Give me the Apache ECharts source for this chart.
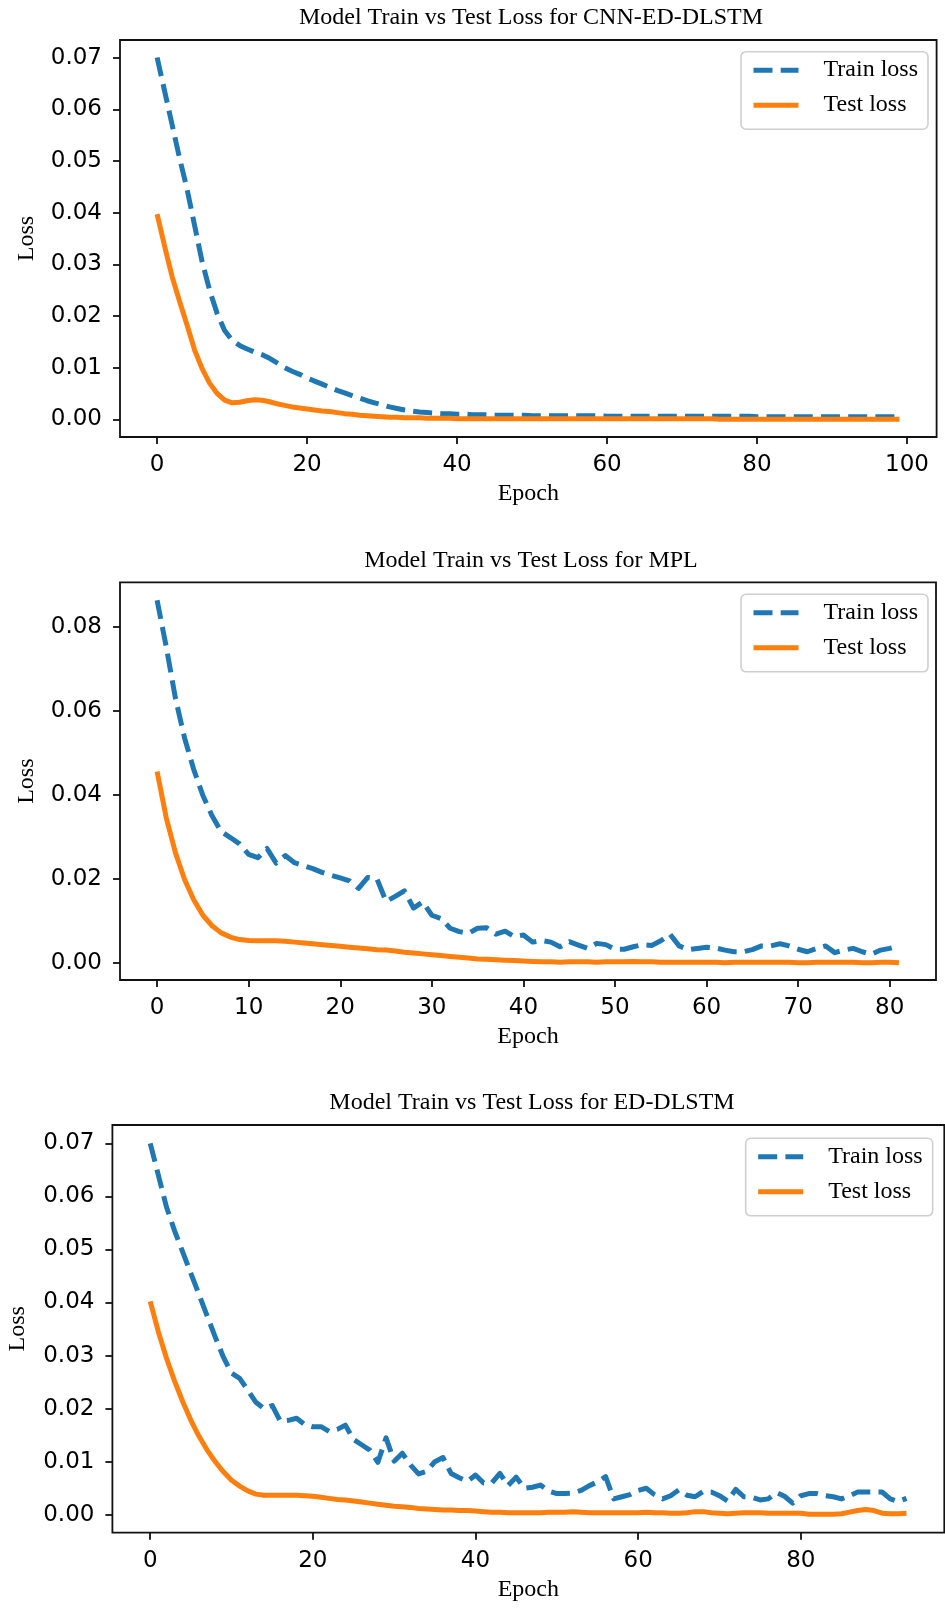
<!DOCTYPE html>
<html>
<head>
<meta charset="utf-8">
<title>Model Train vs Test Loss</title>
<script src="https://cdn.jsdelivr.net/npm/echarts@6.0.0/dist/echarts.min.js"></script>
<style>
  html, body { margin: 0; padding: 0; background: #ffffff; }
  #chart { width: 945px; height: 1609px; }
</style>
</head>
<body>
<div id="chart"></div>
<script>
// ---- Panel titles ----
const panelTitles = [
  'Model Train vs Test Loss for CNN-ED-DLSTM',
  'Model Train vs Test Loss for MPL',
  'Model Train vs Test Loss for ED-DLSTM'
];
const seriesNames = ['Train loss', 'Test loss'];

// ---- CNN-ED-DLSTM (epochs 0..99) ----
const cnnTrain = [
  0.0700, 0.0635, 0.0570, 0.0505, 0.0445, 0.0375, 0.0305, 0.0250, 0.0205, 0.0172,
  0.0153, 0.0143, 0.0136, 0.0130, 0.0125, 0.0118, 0.0109, 0.0100, 0.0093, 0.0087,
  0.0080, 0.0074, 0.0068, 0.0062, 0.0056, 0.0051, 0.0046, 0.0041, 0.0036, 0.0032,
  0.0028, 0.0024, 0.0021, 0.0018, 0.0016, 0.0014, 0.0013, 0.0012, 0.0011, 0.0011,
  0.0010, 0.0010, 0.0009, 0.0009, 0.0009, 0.0008, 0.0008, 0.0008, 0.0008, 0.0008,
  0.0007, 0.0007, 0.0007, 0.0007, 0.0007, 0.0007, 0.0007, 0.0007, 0.0007, 0.0007,
  0.0006, 0.0006, 0.0006, 0.0006, 0.0006, 0.0006, 0.0006, 0.0006, 0.0006, 0.0006,
  0.0006, 0.0006, 0.0006, 0.0006, 0.0006, 0.0006, 0.0006, 0.0006, 0.0006, 0.0006,
  0.0005, 0.0005, 0.0005, 0.0005, 0.0005, 0.0005, 0.0005, 0.0005, 0.0005, 0.0005,
  0.0005, 0.0005, 0.0005, 0.0005, 0.0005, 0.0005, 0.0005, 0.0005, 0.0005, 0.0005
];
const cnnTest = [
  0.0397, 0.0335, 0.0276, 0.0228, 0.0182, 0.0134, 0.0098, 0.0070, 0.0050, 0.0037,
  0.0032, 0.0033, 0.0036, 0.0038, 0.0037, 0.0034, 0.0030, 0.0027, 0.0024, 0.0022,
  0.0020, 0.0018, 0.0016, 0.0015, 0.0013, 0.0011, 0.0010, 0.0008, 0.0007, 0.0006,
  0.0005, 0.0004, 0.0004, 0.0003, 0.0003, 0.0003, 0.0002, 0.0002, 0.0002, 0.0002,
  0.0001, 0.0001, 0.0001, 0.0001, 0.0001, 0.0001, 0.0001, 0.0001, 0.0001, 0.0001,
  0.0001, 0.0001, 0.0001, 0.0001, 0.0001, 0.0001, 0.0001, 0.0001, 0.0001, 0.0001,
  0.0001, 0.0001, 0.0001, 0.0001, 0.0001, 0.0001, 0.0001, 0.0001, 0.0001, 0.0001,
  0.0001, 0.0001, 0.0001, 0.0001, 0.0001, 0.0000, 0.0000, 0.0000, 0.0000, 0.0000,
  0.0000, 0.0000, 0.0000, 0.0000, 0.0000, 0.0000, 0.0000, 0.0000, 0.0000, 0.0000,
  0.0000, 0.0000, 0.0000, 0.0000, 0.0000, 0.0000, 0.0000, 0.0000, 0.0000, 0.0000
];
const cnnXTicks = [0, 20, 40, 60, 80, 100];
const cnnYTicks = [0, 0.01, 0.02, 0.03, 0.04, 0.05, 0.06, 0.07];

// ---- MPL (epochs 0..81) ----
const mplTrain = [
  0.0863, 0.0752, 0.0630, 0.0535, 0.0460, 0.0398, 0.0350, 0.0312, 0.0298, 0.0283,
  0.0258, 0.0250, 0.0272, 0.0237, 0.0255, 0.0238, 0.0231, 0.0224, 0.0215, 0.0208,
  0.0202, 0.0195, 0.0177, 0.0203, 0.0200, 0.0146, 0.0158, 0.0171, 0.0130, 0.0145,
  0.0113, 0.0105, 0.0082, 0.0074, 0.0070, 0.0082, 0.0083, 0.0068, 0.0075, 0.0062,
  0.0066, 0.0049, 0.0053, 0.0049, 0.0038, 0.0050, 0.0042, 0.0034, 0.0046, 0.0043,
  0.0032, 0.0032, 0.0038, 0.0043, 0.0041, 0.0052, 0.0068, 0.0040, 0.0031, 0.0034,
  0.0037, 0.0035, 0.0030, 0.0026, 0.0026, 0.0031, 0.0040, 0.0040, 0.0045, 0.0040,
  0.0032, 0.0026, 0.0034, 0.0040, 0.0024, 0.0030, 0.0034, 0.0026, 0.0020, 0.0030,
  0.0034, 0.0040
];
const mplTest = [
  0.0455, 0.0345, 0.0262, 0.0198, 0.0150, 0.0113, 0.0088, 0.0071, 0.0061, 0.0055,
  0.0053, 0.0052, 0.0052, 0.0052, 0.0051, 0.0049, 0.0047, 0.0045, 0.0043, 0.0041,
  0.0039, 0.0037, 0.0035, 0.0033, 0.0031, 0.0030, 0.0028, 0.0025, 0.0023, 0.0021,
  0.0019, 0.0017, 0.0015, 0.0013, 0.0011, 0.0009, 0.0008, 0.0007, 0.0006, 0.0005,
  0.0004, 0.0003, 0.0002, 0.0002, 0.0001, 0.0002, 0.0002, 0.0002, 0.0001, 0.0002,
  0.0002, 0.0002, 0.0003, 0.0002, 0.0002, 0.0001, 0.0001, 0.0001, 0.0001, 0.0001,
  0.0001, 0.0001, 0.0000, 0.0001, 0.0001, 0.0001, 0.0001, 0.0001, 0.0001, 0.0001,
  0.0000, 0.0000, 0.0001, 0.0001, 0.0001, 0.0001, 0.0001, 0.0000, 0.0000, 0.0001,
  0.0001, 0.0000
];
const mplXTicks = [0, 10, 20, 30, 40, 50, 60, 70, 80];
const mplYTicks = [0, 0.02, 0.04, 0.06, 0.08];

// ---- ED-DLSTM (epochs 0..93) ----
const edTrain = [
  0.0700, 0.0640, 0.0580, 0.0535, 0.0495, 0.0455, 0.0415, 0.0375, 0.0335, 0.0297,
  0.0267, 0.0257, 0.0235, 0.0212, 0.0200, 0.0206, 0.0176, 0.0178, 0.0182, 0.0170,
  0.0166, 0.0166, 0.0157, 0.0161, 0.0169, 0.0142, 0.0132, 0.0122, 0.0099, 0.0145,
  0.0101, 0.0116, 0.0094, 0.0077, 0.0082, 0.0100, 0.0108, 0.0078, 0.0070, 0.0063,
  0.0075, 0.0060, 0.0060, 0.0078, 0.0055, 0.0071, 0.0050, 0.0052, 0.0056, 0.0045,
  0.0040, 0.0040, 0.0041, 0.0046, 0.0055, 0.0062, 0.0072, 0.0030, 0.0034, 0.0038,
  0.0046, 0.0050, 0.0038, 0.0030, 0.0036, 0.0047, 0.0037, 0.0034, 0.0044, 0.0043,
  0.0036, 0.0026, 0.0048, 0.0034, 0.0033, 0.0028, 0.0030, 0.0042, 0.0035, 0.0022,
  0.0036, 0.0040, 0.0040, 0.0036, 0.0034, 0.0030, 0.0036, 0.0043, 0.0043, 0.0043,
  0.0043, 0.0030, 0.0025, 0.0031
];
const edTest = [
  0.0402, 0.0345, 0.0295, 0.0252, 0.0213, 0.0178, 0.0148, 0.0122, 0.0100, 0.0081,
  0.0065, 0.0054, 0.0045, 0.0039, 0.0037, 0.0037, 0.0037, 0.0037, 0.0037, 0.0036,
  0.0035, 0.0033, 0.0031, 0.0029, 0.0028, 0.0026, 0.0024, 0.0022, 0.0020, 0.0018,
  0.0016, 0.0015, 0.0014, 0.0012, 0.0011, 0.0010, 0.0009, 0.0009, 0.0008, 0.0008,
  0.0007, 0.0006, 0.0005, 0.0005, 0.0004, 0.0004, 0.0004, 0.0004, 0.0004, 0.0005,
  0.0005, 0.0005, 0.0006, 0.0005, 0.0004, 0.0004, 0.0004, 0.0004, 0.0004, 0.0004,
  0.0004, 0.0005, 0.0004, 0.0004, 0.0003, 0.0003, 0.0004, 0.0006, 0.0006, 0.0004,
  0.0003, 0.0002, 0.0003, 0.0004, 0.0004, 0.0004, 0.0003, 0.0003, 0.0003, 0.0003,
  0.0003, 0.0001, 0.0001, 0.0001, 0.0001, 0.0002, 0.0005, 0.0008, 0.0010, 0.0008,
  0.0003, 0.0002, 0.0002, 0.0003
];
const edXTicks = [0, 20, 40, 60, 80];
const edYTicks = [0, 0.01, 0.02, 0.03, 0.04, 0.05, 0.06, 0.07];

// ---- Styling ----
const TRAIN_COLOR = '#1f77b4';
const TEST_COLOR = '#ff7f0e';
const SERIF = '"Liberation Serif", "Times New Roman", serif';
const SANS = '"DejaVu Sans", sans-serif';

// Panel boxes (pixel rectangles of the plotting areas) and axis extents
const panels = [
  { box: { left: 120, top: 40, width: 816.6, height: 397 },
    x: [-4.95, 103.95], y: [-0.00342, 0.0734],
    xTicks: cnnXTicks, yTicks: cnnYTicks, train: cnnTrain, test: cnnTest,
    titleX: 531, labelX: 26.5, legend: { left: 741, top: 51.7 } },
  { box: { left: 120, top: 582.3, width: 816, height: 397.7 },
    x: [-4.05, 85.05], y: [-0.00412, 0.09057],
    xTicks: mplXTicks, yTicks: mplYTicks, train: mplTrain, test: mplTest,
    titleX: 531, labelX: 26.5, legend: { left: 741, top: 594.3 } },
  { box: { left: 112.4, top: 1125, width: 831.9, height: 407.7 },
    x: [-4.65, 97.65], y: [-0.00337, 0.07345],
    xTicks: edXTicks, yTicks: edYTicks, train: edTrain, test: edTest,
    titleX: 532, labelX: 18, legend: { left: 745.7, top: 1138.3 } }
];

const grid = [], xAxis = [], yAxis = [], series = [], legend = [], graphic = [];

panels.forEach((p, i) => {
  const b = p.box;
  grid.push({
    left: b.left, top: b.top, width: b.width, height: b.height,
    show: true, borderColor: '#111', borderWidth: 1.8, backgroundColor: 'transparent'
  });
  xAxis.push({
    type: 'value', gridIndex: i, min: p.x[0], max: p.x[1], position: 'bottom',
    axisLine: { show: false, onZero: false },
    splitLine: { show: false },
    axisTick: { show: true, length: 7, customValues: p.xTicks,
                lineStyle: { color: '#111', width: 1.8 } },
    axisLabel: { customValues: p.xTicks, margin: 17, color: '#000',
                 fontFamily: SANS, fontSize: 23,
                 formatter: v => String(Math.round(v)) }
  });
  yAxis.push({
    type: 'value', gridIndex: i, min: p.y[0], max: p.y[1], position: 'left',
    axisLine: { show: false, onZero: false },
    splitLine: { show: false },
    axisTick: { show: true, length: 7, customValues: p.yTicks,
                lineStyle: { color: '#111', width: 1.8 } },
    axisLabel: { customValues: p.yTicks, margin: 18, color: '#000',
                 fontFamily: SANS, fontSize: 23,
                 formatter: v => v.toFixed(2) }
  });
  series.push({
    name: seriesNames[0], type: 'line', xAxisIndex: i, yAxisIndex: i,
    data: p.train.map((v, k) => [k, v]),
    symbol: 'none', smooth: false, clip: true,
    lineStyle: { color: TRAIN_COLOR, width: 5, type: [19, 8.2], join: 'round' },
    itemStyle: { color: TRAIN_COLOR }
  });
  series.push({
    name: seriesNames[1], type: 'line', xAxisIndex: i, yAxisIndex: i,
    data: p.test.map((v, k) => [k, v]),
    symbol: 'none', smooth: false, clip: true,
    lineStyle: { color: TEST_COLOR, width: 5, type: 'solid', join: 'round' },
    itemStyle: { color: TEST_COLOR }
  });
  legend.push({
    data: seriesNames,
    orient: 'vertical',
    left: p.legend.left, top: p.legend.top,
    itemWidth: 45, itemHeight: 24, itemGap: 11,
    padding: [6.5, 10, 12, 10],
    backgroundColor: 'rgba(255,255,255,0.8)',
    borderColor: '#cfcfcf', borderWidth: 1.6, borderRadius: 5,
    selectedMode: false,
    lineStyle: { width: 5 },
    itemStyle: { opacity: 0, borderWidth: 0 },
    textStyle: { fontFamily: SERIF, fontSize: 24, color: '#000', padding: [0, 0, 0, 20] }
  });
  // Panel title
  graphic.push({
    type: 'text', x: p.titleX, y: b.top - 22,
    style: { text: panelTitles[i], font: '24px ' + SERIF, fill: '#000',
             textAlign: 'center', textVerticalAlign: 'middle' }
  });
  // X axis name
  graphic.push({
    type: 'text', x: b.left + b.width / 2, y: b.top + b.height + 57,
    style: { text: 'Epoch', font: '24px ' + SERIF, fill: '#000',
             textAlign: 'center', textVerticalAlign: 'middle' }
  });
  // Y axis name
  graphic.push({
    type: 'text', x: p.labelX, y: b.top + b.height / 2, rotation: Math.PI / 2,
    style: { text: 'Loss', font: '24px ' + SERIF, fill: '#000',
             textAlign: 'center', textVerticalAlign: 'middle' }
  });
});

const chart = echarts.init(document.getElementById('chart'), null, { renderer: 'canvas' });
chart.setOption({
  animation: false,
  backgroundColor: '#ffffff',
  grid, xAxis, yAxis, series, legend, graphic
});
</script>
</body>
</html>
